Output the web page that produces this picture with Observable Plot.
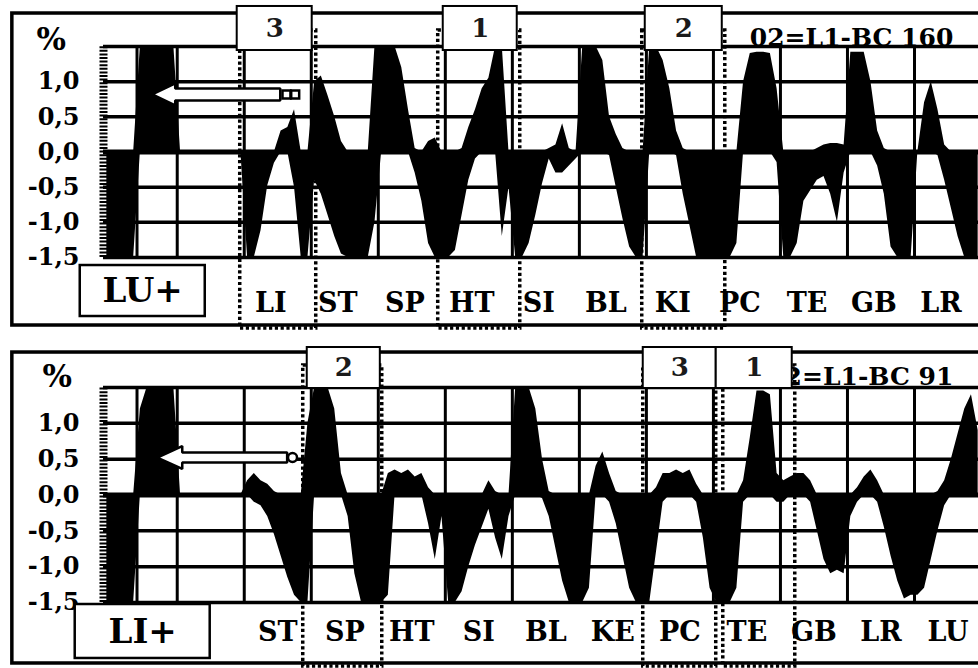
<!DOCTYPE html>
<html><head><meta charset="utf-8">
<script src="https://cdn.jsdelivr.net/npm/d3@7"></script>
<script src="https://cdn.jsdelivr.net/npm/@observablehq/plot@0.6"></script>
<style>
body{margin:0;background:#fff;}
#chart{width:978px;height:668px;overflow:hidden;}
#chart svg{display:block;}
</style></head><body><div id="chart"></div>
<script>
// ---- data ----
const meridiansTop = ["LU","LI","ST","SP","HT","SI","BL","KI","PC","TE","GB","LR"];
const meridiansBottom = ["LI","ST","SP","HT","SI","BL","KE","PC","TE","GB","LR","LU"];
const yTicks = [1.0, 0.5, 0.0, -0.5, -1.0, -1.5];
const yTickLabels = ["1,0","0,5","0,0","-0,5","-1,0","-1,5"];
const samplesPerMeridian = 10;
const leadSamples = 11;
const titleTop = "02=L1-BC 160";
const titleBottom = "02=L1-BC 91";
const nameTop = "LU+";
const nameBottom = "LI+";

// upper / lower envelope of the measured signal (%)
const topHi = [0,0,0,0,0, 1.5,1.5,1.5,1.5,1.5,1.5,
 0,0,0,0,0,0,0,0,0,0,
 0,0,0,0,0,0.3,0.35,0.6,0,0,
 1.0,1.08,0.8,0.5,0.15,0,0,0,0,1.5,
 1.5,1.5,1.5,1.2,0.6,0.05,0,0.15,0.2,0,
 0,0,0.05,0.35,0.6,0.9,1.05,1.5,1.5,0,
 0,0,0,0,0,0.05,0.1,0.4,0.05,0,
 1.5,1.5,1.5,1.3,0.5,0.25,0.05,0,0,0,
 1.5,1.5,1.3,0.9,0.3,0.05,0,0,0,0,
 0,0,0,0,1.0,1.4,1.42,1.42,1.4,0.9,
 0,0,0,0,0,0.05,0.1,0.12,0.12,0.1,
 1.42,1.42,1.42,1.0,0.3,0.05,0,0,0,0,
 0,0.7,1.0,0.6,0.1,0,0,0,0,0];
const topLo = [-1.5,-1.5,-1.5,-1.5,-1.5, 0,0,0,0,0,0,
 0,0,0,0,0,0,0,0,0,0,
 -1.5,-1.5,-1.12,-0.48,-0.16,0,0,-0.5,-1.5,-1.5,
 -0.4,-0.6,-0.9,-1.2,-1.45,-1.5,-1.5,-1.5,-1.5,-1.0,
 0,0,0,0,0,-0.3,-0.7,-1.3,-1.5,-1.5,
 -1.5,-1.4,-0.9,-0.4,-0.1,0,0,0,-1.2,-0.5,
 -1.5,-1.5,-1.3,-0.9,-0.45,-0.1,-0.3,-0.3,-0.2,-0.1,
 0,0,0,0,-0.05,-0.5,-0.95,-1.35,-1.5,-1.5,
 0,0,0,0,-0.05,-0.6,-1.05,-1.5,-1.5,-1.5,
 -1.5,-1.5,-1.5,-1.3,0,0,0,0,0,-0.15,
 -1.5,-1.5,-1.3,-0.7,-0.55,-0.4,-0.35,-0.6,-1.0,-0.3,
 0,0,0,0,-0.2,-0.6,-1.35,-1.5,-1.5,-1.5,
 0,0,0,-0.05,-0.4,-0.8,-1.2,-1.5,-1.5,-1.5];
const bottomHi = [0,0,0,0,0, 1.2,1.5,1.5,1.5,1.5,1.5,
 0,0,0,0,0,0,0,0,0,0,
 0.2,0.3,0.2,0.15,0.05,0,0,0,0,1.0,
 1.5,1.5,1.5,1.2,0.3,0,0,0,0,0,
 0,0.3,0.35,0.3,0.35,0.25,0.3,0.1,0,0,
 0,0,0,0,0,0,0.2,0.05,0,0,
 1.5,1.5,1.5,1.2,0.5,0.05,0,0,0,0,
 0,0,0.4,0.6,0.3,0.05,0,0,0,0,
 0,0.1,0.3,0.3,0.35,0.3,0.35,0.15,0,0,
 0,0,0,0,0.2,0.8,1.45,1.45,1.4,0.3,
 0.2,0.25,0.3,0.3,0.2,0,0,0,0,0,
 0,0.1,0.25,0.35,0.2,0,0,0,0,0,
 0,0,0,0.05,0.2,0.5,0.85,1.2,1.4,0.9];
const bottomLo = [-1.5,-1.5,-1.5,-1.5,-1.5, 0,0,0,0,0,0,
 0,0,0,0,0,0,0,0,0,0,
 0,-0.1,-0.15,-0.3,-0.55,-0.85,-1.15,-1.4,-1.5,-1.5,
 0,0,0,0,0,-0.3,-1.1,-1.5,-1.5,-1.5,
 -1.5,-1.4,0,0,0,0,0,-0.4,-0.9,-0.3,
 -1.5,-1.5,-1.35,-1.0,-0.7,-0.45,-0.2,-0.6,-0.9,-0.3,
 0,0,0,0,-0.05,-0.3,-0.75,-1.2,-1.5,-1.5,
 -1.5,-1.3,0,0,-0.1,-0.4,-0.85,-1.3,-1.5,-1.5,
 -1.5,-0.8,-0.1,0,0,0,0,-0.1,-0.6,-1.3,
 -1.5,-1.5,-1.5,-1.3,-0.1,0,0,0,0,-0.1,
 -0.1,0,0,0,-0.1,-0.5,-0.9,-1.1,-1.05,-1.1,
 -0.3,-0.1,0,0,-0.1,-0.45,-0.85,-1.2,-1.45,-1.4,
 -1.4,-1.3,-0.9,-0.5,-0.15,0,0,0,0,0];

// highlighted meridians (dotted frame + numbered box), in meridian units
const highlightsTop = [
  {x1:0.94, x2:2.074, b1:0.895, b2:2.014, num:"3"},
  {x1:3.894, x2:5.118, b1:3.969, b2:5.073, num:"1"},
  {x1:6.938, x2:8.177, b1:6.983, b2:8.132, num:"2"}];
const highlightsBottom = [
  {x1:1.88, x2:3.059, b1:1.94, b2:3.03, num:"2"},
  {x1:6.953, x2:8.042, b1:6.953, b2:8.042, num:"3"},
  {x1:8.147, x2:9.221, b1:8.042, b2:9.176, num:"1"}];

const gridU = [-0.6,0,1,2,3,4,5,6,7,8,9,10,11];
const FONT = "DejaVu Serif, Liberation Serif, serif";

function panel(o) {
  const data = o.hi.map((h, i) => ({u: (i - leadSamples + 0.5) / samplesPerMeridian, hi: h, lo: o.lo[i]}));
  const g = o.geom;
  const a = g.arrow;
  const arrowPts = [
    [a.tip, a.c], [a.base, a.c + a.hh], [a.base, a.c + a.sh], [a.end, a.c + a.sh],
    [a.end, a.c - a.sh], [a.base, a.c - a.sh], [a.base, a.c - a.hh], [a.tip, a.c]
  ].map(([u, v]) => ({u, v}));
  // the first meridian is named in the box at the left, so its label is not repeated
  const labels = o.labels.map((m, k) => ({u: k + 0.5, m})).filter((d, k) => k > 0);
  const ticks = yTicks.map((v, i) => ({v, t: yTickLabels[i]}));
  return Plot.plot({
    width: 978, height: 334,
    marginLeft: 103, marginRight: 0, marginTop: g.mt, marginBottom: g.mb,
    x: {domain: [-1.1, 11.955], axis: null},
    y: {domain: [-1.5, 1.5], axis: null},
    style: {background: "white", overflow: "hidden"},
    marks: [
      Plot.rect([g.frame], {x1: "x1", x2: "x2", y1: "y1", y2: "y2", fill: "white", stroke: "black", strokeWidth: 3.5}),
      Plot.ruleY([1.5, 1, 0.5, -0.5, -1, -1.5], {x1: -1.1, x2: 12.5, stroke: "black", strokeWidth: 3.5}),
      Plot.ruleY([0], {x1: -1.1, x2: 12.5, stroke: "black", strokeWidth: 5}),
      Plot.ruleX(gridU, {y1: -1.5, y2: 1.5, stroke: "black", strokeWidth: 3}),
      Plot.area(data, {x1: "u", y1: "lo", y2: "hi", fill: "black", curve: "linear"}),
      Plot.ruleX([-1.1], {y1: -1.5, y2: 1.5, stroke: "black", strokeWidth: 8, strokeDasharray: "2,1.6"}),
      Plot.text(ticks, {x: -1.1, y: "v", text: "t", textAnchor: "end", dx: -24, fontSize: 24, fontWeight: "bold", fontFamily: FONT}),
      Plot.text(["%"], {x: g.pct[0], y: g.pct[1], text: d => d, fontSize: 31, fontWeight: "bold", fontFamily: FONT}),
      Plot.text(labels, {x: "u", y: g.labelV, text: "m", dx: o.labelDx, fontSize: 27, fontWeight: "bold", fontFamily: FONT}),
      Plot.text([o.title], {x: 11.579, y: g.titleV, text: d => d, textAnchor: "end", fontSize: 25, fontWeight: "bold", fontFamily: FONT}),
      Plot.rect(o.highlights, {x1: "x1", x2: "x2", y1: g.dotBottom, y2: g.dotTop, fill: "none", stroke: "black", strokeWidth: 3.5, strokeDasharray: "3.2,2.6"}),
      Plot.rect([g.nameBox], {x1: "x1", x2: "x2", y1: "y1", y2: "y2", fill: "white", stroke: "black", strokeWidth: 2.5}),
      Plot.text([o.name], {x: g.nameBox.tu, y: g.nameBox.tv, text: d => d, fontSize: 34, fontWeight: "bold", fontFamily: FONT}),
      Plot.rect(o.highlights, {x1: "b1", x2: "b2", y1: g.boxBottom, y2: g.boxTop, fill: "white", stroke: "black", strokeWidth: 2}),
      Plot.text(o.highlights, {x: d => (d.b1 + d.b2) / 2, y: (g.boxBottom + g.boxTop) / 2, text: "num", fontSize: 26, fontWeight: "bold", fontFamily: FONT, fill: "#1a1a1a"}),
      Plot.line(arrowPts, {x: "u", y: "v", fill: "white", stroke: "black", strokeWidth: 2.5, strokeLinejoin: "miter"}),
      Plot.dot(a.ends, {x: "u", y: "v", symbol: a.symbol, r: 4.5, fill: "white", stroke: "black", strokeWidth: 2.5})
    ]
  });
}

const topPlot = panel({
  hi: topHi, lo: topLo, labels: meridiansTop, labelDx: -7, title: titleTop, name: nameTop,
  highlights: highlightsTop,
  geom: {
    mt: 46, mb: 77,
    frame: {x1: -2.46, x2: 12.6, y1: -2.467, y2: 1.969},
    nameBox: {x1: -1.447, x2: 0.418, y1: -2.339, y2: -1.614, tu: -0.515, tv: -1.98},
    labelV: -2.154, pct: [-1.88, 1.585], titleV: 1.621,
    dotBottom: -2.51, dotTop: 1.728, boxBottom: 1.443, boxTop: 2.069,
    arrow: {c: 0.818, tip: -0.373, base: -0.03, end: 1.537, sh: 0.085, hh: 0.156, symbol: "square",
            ends: [{u: 1.63, v: 0.818}, {u: 1.76, v: 0.818}]}
  }
});
const bottomPlot = panel({
  hi: bottomHi, lo: bottomLo, labels: meridiansBottom, labelDx: 0, title: titleBottom, name: nameBottom,
  highlights: highlightsBottom,
  geom: {
    mt: 53, mb: 66,
    frame: {x1: -2.46, x2: 12.6, y1: -2.351, y2: 1.988},
    nameBox: {x1: -1.522, x2: 0.492, y1: -2.281, y2: -1.528, tu: -0.515, tv: -1.918},
    labelV: -1.918, pct: [-1.79, 1.64], titleV: 1.64,
    dotBottom: -2.393, dotTop: 1.807, boxBottom: 1.486, boxTop: 2.058,
    arrow: {c: 0.523, tip: -0.298, base: 0.075, end: 1.64, sh: 0.07, hh: 0.16, symbol: "circle",
            ends: [{u: 1.72, v: 0.523}]}
  }
});
document.getElementById("chart").append(topPlot, bottomPlot);
</script></body></html>
